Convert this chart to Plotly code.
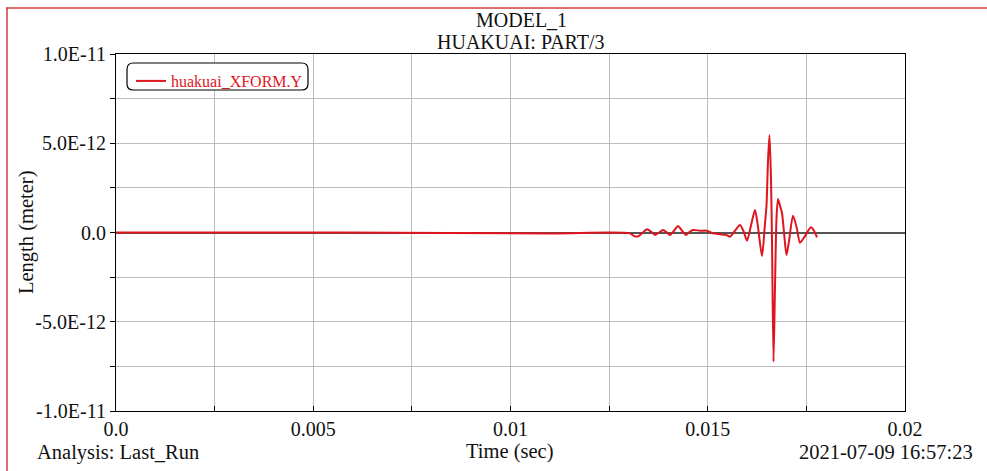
import plotly.graph_objects as go

# ---- data (time in s, displacement in 1e-12 m) ----
time_s = [0.0, 0.004664, 0.005754, 0.011052, 0.01303, 0.01313, 0.01323, 0.01333,
          0.01346, 0.01356, 0.013663, 0.013765, 0.013866, 0.013967, 0.014043, 0.014145,
          0.014246, 0.014348, 0.014449, 0.01455, 0.014626, 0.014804, 0.014981, 0.015133,
          0.015311, 0.015488, 0.015564, 0.015691, 0.015818, 0.015919, 0.015995, 0.016097,
          0.016198, 0.016274, 0.016375, 0.016451, 0.016489, 0.016527, 0.016565, 0.016603,
          0.016629, 0.016667, 0.016705, 0.016743, 0.016781, 0.016832, 0.016882, 0.016933,
          0.016996, 0.017059, 0.017161, 0.017262, 0.017338, 0.017465, 0.017617, 0.017693,
          0.017769]
disp_e12 = [0.0, 0.0, 0.0, -0.05, -0.05, -0.2, -0.22, -0.05,
            0.18, 0.05, -0.14, 0.0, 0.14, 0.0, -0.14, 0.1,
            0.36, 0.1, -0.14, 0.05, 0.14, 0.1, 0.1, -0.05,
            -0.1, -0.15, -0.235, 0.1, 0.42, 0.0, -0.46, 0.4,
            1.26, 0.3, -1.32, 0.5, 1.5, 4.0, 5.46, 3.0,
            -0.5, -7.24, -3.0, 0.8, 1.88, 1.5, 1.09, 0.0,
            -1.26, -0.5, 0.94, 0.2, -0.57, -0.2, 0.29, 0.1,
            -0.27]
disp_m = [v * 1e-12 for v in disp_e12]

x_tick_vals = [0.0, 0.0025, 0.005, 0.0075, 0.01, 0.0125, 0.015, 0.0175, 0.02]
x_tick_text = ["0.0", "", "0.005", "", "0.01", "", "0.015", "", "0.02"]
y_tick_vals = [-1e-11, -7.5e-12, -5e-12, -2.5e-12, 0.0, 2.5e-12, 5e-12, 7.5e-12, 1e-11]
y_tick_text = ["-1.0E-11", "", "-5.0E-12", "", "0.0", "", "5.0E-12", "", "1.0E-11"]

FONT = "Liberation Serif, Times New Roman, serif"
TXT = "#111111"
RED = "#e0141e"

fig = go.Figure()
fig.add_trace(go.Scatter(x=time_s, y=disp_m, mode="lines", name="huakuai_XFORM.Y",
                         line=dict(color=RED, width=2, shape="spline", smoothing=0.7)))

axis_common = dict(showline=True, linecolor="black", linewidth=1.2, mirror=True,
                   tickcolor="black", tickwidth=1,
                   showgrid=True, gridcolor="#bdbdbd", gridwidth=1,
                   tickfont=dict(family=FONT, size=20, color=TXT), tickmode="array")

fig.update_xaxes(range=[0, 0.02], tickvals=x_tick_vals, ticktext=x_tick_text,
                 ticks="inside", ticklen=5, zeroline=False, **axis_common)
fig.update_yaxes(range=[-1e-11, 1e-11], tickvals=y_tick_vals, ticktext=y_tick_text,
                 ticks="outside", ticklen=5,
                 zeroline=True, zerolinecolor="#555555", zerolinewidth=1.5, **axis_common)

L, R, T, B = 116, 82, 54, 60
W, H = 987, 471
pw, ph = W - L - R, H - T - B

def px(x):
    return (x - L) / pw

def py(y):
    return (H - B - y) / ph

ann = [
    dict(text="MODEL_1", x=px(521), y=py(20), size=20),
    dict(text="HUAKUAI: PART/3", x=px(521), y=py(42), size=20),
]
annotations = [dict(text=a["text"], x=a["x"], y=a["y"], xref="paper", yref="paper",
                    xanchor="center", yanchor="middle", showarrow=False,
                    font=dict(family=FONT, size=a["size"], color=TXT)) for a in ann]
annotations += [
    dict(text="Analysis: Last_Run", x=px(35), y=py(452), xref="paper", yref="paper",
         xanchor="left", yanchor="middle", showarrow=False,
         font=dict(family=FONT, size=20.5, color=TXT)),
    dict(text="Time (sec)", x=px(510), y=py(451), xref="paper", yref="paper",
         xanchor="center", yanchor="middle", showarrow=False,
         font=dict(family=FONT, size=20.5, color=TXT)),
    dict(text="2021-07-09 16:57:23", x=px(975), y=py(452), xref="paper", yref="paper",
         xanchor="right", yanchor="middle", showarrow=False,
         font=dict(family=FONT, size=20.5, color=TXT)),
    dict(text="Length (meter)", x=px(26), y=py(232), xref="paper", yref="paper",
         xanchor="center", yanchor="middle", textangle=-90, showarrow=False,
         font=dict(family=FONT, size=20.5, color=TXT)),
]

# rounded legend box
x0, x1, y0, y1, r = px(127), px(308), py(90), py(63), 0.008
ry = r * pw / ph
legend_path = (f"M {x0+r},{y1} L {x1-r},{y1} Q {x1},{y1} {x1},{y1-ry} "
               f"L {x1},{y0+ry} Q {x1},{y0} {x1-r},{y0} L {x0+r},{y0} "
               f"Q {x0},{y0} {x0},{y0+ry} L {x0},{y1-ry} Q {x0},{y1} {x0+r},{y1} Z")
shapes = [
    dict(type="path", path=legend_path, xref="paper", yref="paper",
         line=dict(color="black", width=1.2), fillcolor="white", layer="above"),
    dict(type="line", xref="paper", yref="paper", x0=px(6), x1=px(990), y0=py(8), y1=py(8),
         line=dict(color="#d23c3c", width=1.5)),
    dict(type="line", xref="paper", yref="paper", x0=px(7), x1=px(7), y0=py(8), y1=py(475),
         line=dict(color="#d23c3c", width=1.5)),
]

fig.update_layout(
    width=W, height=H, margin=dict(l=L, r=R, t=T, b=B),
    paper_bgcolor="white", plot_bgcolor="white",
    font=dict(family=FONT, color=TXT),
    showlegend=True,
    legend=dict(x=px(131), y=py(64), xanchor="left", yanchor="top",
                bgcolor="rgba(0,0,0,0)", borderwidth=0,
                font=dict(family=FONT, size=16, color=RED),
                itemwidth=30, tracegroupgap=0),
    annotations=annotations, shapes=shapes,
)

fig.write_html("out.html", config={"displayModeBar": False},
               post_script="document.body.style.margin='0';document.body.style.overflow='hidden';")
